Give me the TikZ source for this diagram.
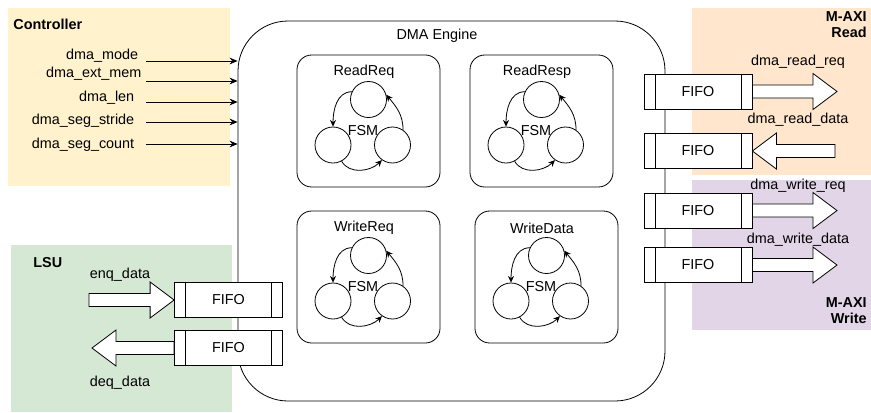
\documentclass[tikz,border=0pt]{standalone}
\usepackage{fontspec}
\setmainfont{Liberation Sans}
\usepackage{xcolor}
\usetikzlibrary{
  arrows.meta,
  positioning,
  calc
}
\definecolor{ctrlfill}{HTML}{FFF2CC}
\definecolor{readfill}{HTML}{FFE6CC}
\definecolor{writefill}{HTML}{E1D5E7}
\definecolor{lsufill}{HTML}{D5E8D4}

% hollow block arrow from #1 to #2
\newcommand{\flexarrow}[2]{%
  \path ($(#2)!18pt!(#1)$) coordinate (fa-base);
  \draw[flex] ($(#1)!4.9pt!90:(#2)$) -- ($(fa-base)!4.9pt!-90:(#1)$)
    -- ($(fa-base)!13.5pt!-90:(#1)$) -- (#2)
    -- ($(fa-base)!13.5pt!90:(#1)$) -- ($(fa-base)!4.9pt!90:(#1)$)
    -- ($(#1)!4.9pt!-90:(#2)$) -- cycle;
}

\begin{document}
\begin{tikzpicture}[
  x=0.75pt, y=-0.75pt,
  line width=0.6pt,
  every node/.style={font=\fontsize{10.8}{12}\selectfont},
  engine/.style={draw, rounded corners=37.5pt, minimum width=320.25pt, minimum height=285pt, inner sep=0pt},
  module/.style={draw, rounded corners=11pt, minimum width=107.25pt, minimum height=99pt},
  state/.style={draw, circle, minimum size=27pt, inner sep=0pt},
  fifo/.style={draw, fill=white, minimum width=81pt, minimum height=26.25pt, inner sep=0pt,
    path picture={
      \draw ([xshift=8.25pt]path picture bounding box.north west) -- ([xshift=8.25pt]path picture bounding box.south west);
      \draw ([xshift=-8.25pt]path picture bounding box.north east) -- ([xshift=-8.25pt]path picture bounding box.south east);
    }},
  sig/.style={-{Stealth[length=6pt,width=5pt]}},
  trans/.style={-{Stealth[length=5pt,width=4.5pt]}},
  flex/.style={draw, fill=white, line join=miter},
  lab/.style={inner sep=1pt},
  regtitle/.style={font=\fontsize{10.8}{12}\selectfont\bfseries, inner sep=0pt}
]
  \useasboundingbox (0,0) rectangle (871,412);

  % regions
  \fill[ctrlfill] (8,8) rectangle (230,186);
  \fill[lsufill] (11,245) rectangle (232,412);
  \fill[readfill] (692,8) rectangle (871,175);
  \fill[writefill] (692,180) rectangle (871,330);

  \node[regtitle, anchor=west] (ctrl-title) at (13,24) {Controller};
  \node[regtitle, anchor=west] (lsu-title) at (33,263) {LSU};
  \node[regtitle, anchor=east, align=right] (read-title) at (867,25) {M-AXI\\Read};
  \node[regtitle, anchor=east, align=right] (write-title) at (867,311) {M-AXI\\Write};

  % dma engine
  \node[engine] (engine) at (451.5,211) {};
  \node[lab] (engine-title) at (437,36) {DMA Engine};

  % fsm modules
  \foreach \nm/\x/\y/\lbl in {rreq/297/55/ReadReq, rresp/470/55/ReadResp, wreq/297/211/WriteReq, wdata/475/211/WriteData}{
    \node[module] (\nm) at (\x+71.5,\y+66) {};
    \node[lab] (\nm-title) at (\x+67,\y+17) {\lbl};
    \node[lab] (\nm-fsm) at (\x+66,\y+76) {FSM};
    \node[state] (\nm-t) at (\x+71.5,\y+44.5) {};
    \node[state] (\nm-l) at (\x+36,\y+90) {};
    \node[state] (\nm-r) at (\x+95.5,\y+90) {};
    \draw[trans] (\nm-t.155) to[out=180,in=90] (\nm-l.north);
    \draw[trans] (\nm-l.-62) to[out=-60,in=-135] (\nm-r.-125);
    \draw[trans] (\nm-r.55) to[out=90,in=-50] (\nm-t.15);
  }

  % controller signals
  \foreach \nm/\txt/\lx/\ly/\ay in {mode/dma\_mode/140/59/61, extmem/dma\_ext\_mem/143/77/81, len/dma\_len/136/101/102, stride/dma\_seg\_stride/136/124/122, count/dma\_seg\_count/136/148.5/144}{
    \node[lab, anchor=base east] (\nm) at (\lx,\ly) {\txt};
    \coordinate (\nm-s) at (146,\ay);
    \draw[sig] (\nm-s) -- (\nm-s -| engine.west);
  }

  % fifos
  \node[fifo] (rfifo1) at (698,91.5) {FIFO};
  \node[fifo] (rfifo2) at (698,151) {FIFO};
  \node[fifo] (wfifo1) at (698,210.5) {FIFO};
  \node[fifo] (wfifo2) at (698,265) {FIFO};
  \node[fifo] (lfifo1) at (228.5,300) {FIFO};
  \node[fifo] (lfifo2) at (228.5,348) {FIFO};

  % block arrows
  \coordinate (rreq-end) at (837,91.5);
  \coordinate (rdata-start) at (835,151);
  \coordinate (wreq-end) at (837,210.5);
  \coordinate (wdata-end) at (837,265);
  \coordinate (enq-start) at (89,300);
  \coordinate (deq-end) at (92,348);
  \flexarrow{rfifo1.east}{rreq-end}
  \flexarrow{rdata-start}{rfifo2.east}
  \flexarrow{wfifo1.east}{wreq-end}
  \flexarrow{wfifo2.east}{wdata-end}
  \flexarrow{enq-start}{lfifo1.west}
  \flexarrow{lfifo2.west}{deq-end}

  \node[lab] (rreq-lab) at (798,62) {dma\_read\_req};
  \node[lab] (rdata-lab) at (798,120) {dma\_read\_data};
  \node[lab] (wreq-lab) at (798,186) {dma\_write\_req};
  \node[lab] (wdata-lab) at (798,240) {dma\_write\_data};
  \node[lab] (enq-lab) at (120,275) {enq\_data};
  \node[lab] (deq-lab) at (120,383) {deq\_data};

\end{tikzpicture}
\end{document}
